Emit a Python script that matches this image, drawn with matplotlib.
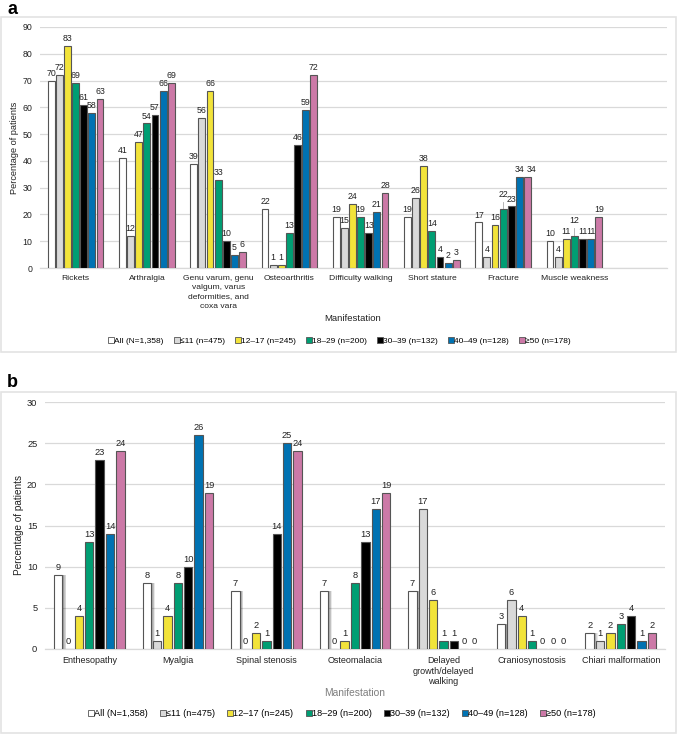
import matplotlib
matplotlib.use("Agg")
import matplotlib.pyplot as plt
import numpy as np
from matplotlib.patches import Rectangle
from matplotlib.lines import Line2D

plt.rcParams['font.family'] = ['Liberation Sans', 'DejaVu Sans']

series = ["All (N=1,358)", "≤11 (n=475)", "12–17 (n=245)", "18–29 (n=200)",
          "30–39 (n=132)", "40–49 (n=128)", "≥50 (n=178)"]
colors = ["#ffffff", "#d9d9d9", "#f2e33a", "#009e73", "#000000", "#0072b2", "#cc79a7"]

cats_a = ["Rickets", "Arthralgia", "Genu varum, genu\nvalgum, varus\ndeformities, and\ncoxa vara",
          "Osteoarthritis", "Difficulty walking", "Short stature", "Fracture", "Muscle weakness"]
all_a = [70, 41, 39, 22, 19, 19, 17, 10]
le11_a = [72, 12, 56, 1, 15, 26, 4, 4]
a12_17_a = [83, 47, 66, 1, 24, 38, 16, 11]
a18_29_a = [69, 54, 33, 13, 19, 14, 22, 12]
a30_39_a = [61, 57, 10, 46, 13, 4, 23, 11]
a40_49_a = [58, 66, 5, 59, 21, 2, 34, 11]
ge50_a = [63, 69, 6, 72, 28, 3, 34, 19]

cats_b = ["Enthesopathy", "Myalgia", "Spinal stenosis", "Osteomalacia",
          "Delayed\ngrowth/delayed\nwalking", "Craniosynostosis", "Chiari malformation"]
all_b = [9, 8, 7, 7, 7, 3, 2]
le11_b = [0, 1, 0, 0, 17, 6, 1]
a12_17_b = [4, 4, 2, 1, 6, 4, 2]
a18_29_b = [13, 8, 1, 8, 1, 1, 3]
a30_39_b = [23, 10, 14, 13, 1, 0, 4]
a40_49_b = [14, 26, 25, 17, 0, 0, 1]
ge50_b = [24, 19, 24, 19, 0, 0, 2]

data_a = [all_a, le11_a, a12_17_a, a18_29_a, a30_39_a, a40_49_a, ge50_a]
data_b = [all_b, le11_b, a12_17_b, a18_29_b, a30_39_b, a40_49_b, ge50_b]

W, H = 678, 735
fig = plt.figure(figsize=(W / 100, H / 100), dpi=100)

def fx(px):
    return px / W

def fy(py):
    return 1 - py / H

# panel frames
for (x0, y0, x1, y1) in [(1, 17, 676, 352), (1, 392, 676, 733)]:
    fig.add_artist(Rectangle((fx(x0), fy(y1)), fx(x1 - x0), (y1 - y0) / H,
                             transform=fig.transFigure, fill=False,
                             edgecolor="#e3e3e3", linewidth=1.2))

fig.text(fx(7), fy(10), "a", fontsize=13, fontweight="bold", va="center", ha="left")
fig.text(fx(7), fy(383), "b", fontsize=13, fontweight="bold", va="center", ha="left")

grid_c = "#d9d9d9"
edge_c = "#555555"
txt_c = "#222222"


def draw_panel(ax, cats, data, ymax, ystep, xmax, step, width, fs_val, fs_tick,
               fs_cat, lsp, shadow=False, raised=None, shifted=None):
    n = len(cats)
    x = np.arange(n)
    offs = (np.arange(7) - 3) * step
    for i, vals in enumerate(data):
        xs = x + offs[i]
        if shadow and i == 0:
            for k in range(6):
                ax.bar(xs + width * (0.10 + 0.07 * k), vals, width=width,
                       color="#000000", alpha=0.085, linewidth=0, zorder=2)
        ax.bar(xs, vals, width=width, color=colors[i], edgecolor=edge_c,
               linewidth=0.8, zorder=3)
        for j, v in enumerate(vals):
            dy = 0
            dx = 0
            if raised and (i, j) in raised:
                dy = raised[(i, j)]
                ax.plot([xs[j], xs[j]], [v, v + dy], color="#aaaaaa",
                        lw=0.6, zorder=2)
            if shifted and (i, j) in shifted:
                dx = shifted[(i, j)]
            ax.text(xs[j] + dx, v + dy + ymax * 0.012, str(v), ha="center",
                    va="bottom", fontsize=fs_val, color=txt_c, zorder=4)
    ax.set_xlim(-0.5, xmax)
    ax.set_ylim(0, ymax)
    ax.set_yticks(np.arange(0, ymax + 0.1, ystep))
    ax.yaxis.grid(True, color=grid_c, lw=0.9)
    ax.set_axisbelow(True)
    for s in ["top", "right", "left"]:
        ax.spines[s].set_visible(False)
    ax.spines["bottom"].set_color(grid_c)
    ax.spines["bottom"].set_linewidth(0.9)
    ax.tick_params(axis="y", length=0, labelsize=fs_tick, labelcolor=txt_c, pad=5.5)
    ax.tick_params(axis="x", length=0, labelsize=fs_cat, labelcolor=txt_c, pad=5)
    ax.set_xticks(x)
    ax.set_xticklabels(cats, linespacing=lsp)


ax_a = fig.add_axes([fx(40), fy(268), fx(667 - 40), (268 - 27) / H])
draw_panel(ax_a, cats_a, data_a, 90, 10, 8.3, 0.114, 0.098, 6.3, 6.3, 6.1, 1.45,
           raised={(3, 6): 2.8, (3, 7): 2.8}, shifted={(6, 6): 0.06})

ax_b = fig.add_axes([fx(45), fy(649), fx(665 - 45), (649 - 402) / H])
draw_panel(ax_b, cats_b, data_b, 30, 5, 6.5, 0.117, 0.094, 6.7, 6.7, 6.5, 1.25,
           shadow=True)

# axis titles
fig.text(fx(15), fy(148), "Percentage of patients", rotation=90, ha="center",
         va="center", fontsize=6.6, color=txt_c)
fig.text(fx(19), fy(525), "Percentage of patients", rotation=90, ha="center",
         va="center", fontsize=7.2, color=txt_c)
fig.text(fx(353), fy(319), "Manifestation", ha="center", va="center",
         fontsize=6.8, color=txt_c)
fig.text(fx(355), fy(693), "Manifestation", ha="center", va="center",
         fontsize=7.4, color="#7f7f7f")

handles = [Line2D([0], [0], marker="s", linestyle="none", markersize=4.5,
                  markerfacecolor=c, markeredgecolor=edge_c, markeredgewidth=0.6)
           for c in colors]
fig.legend(handles, series, loc="center", bbox_to_anchor=(fx(340), fy(341)),
           ncol=7, frameon=False, fontsize=6.0, handlelength=0.5,
           handletextpad=0.1, columnspacing=1.35, borderaxespad=0)
fig.legend(handles, series, loc="center", bbox_to_anchor=(fx(342), fy(714)),
           ncol=7, frameon=False, fontsize=6.6, handlelength=0.5,
           handletextpad=0.1, columnspacing=1.4, borderaxespad=0)

fig.savefig("out.png", dpi=100)
